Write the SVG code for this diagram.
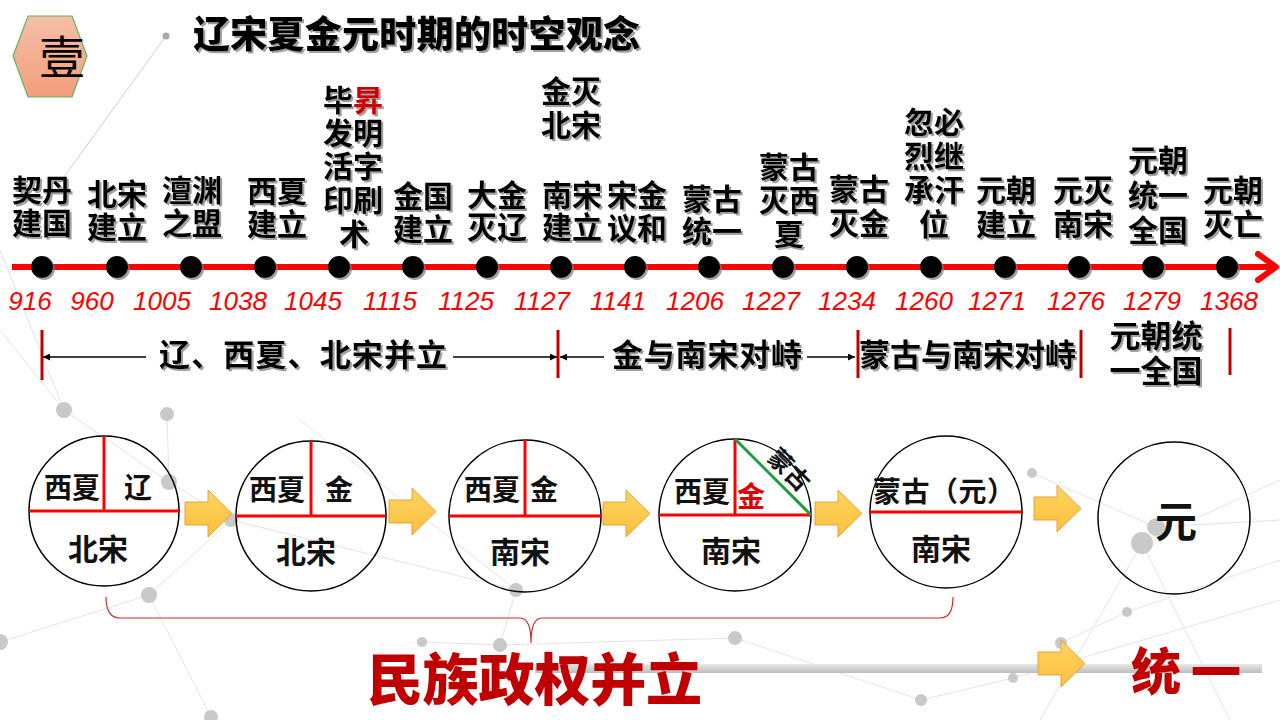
<svg xmlns="http://www.w3.org/2000/svg" width="1280" height="720" viewBox="0 0 1280 720">
<defs>
<style>
.cjk{font-family:"Noto Sans CJK SC","Noto Sans",sans-serif}
.lbl{font-family:"Noto Sans CJK SC","Noto Sans",sans-serif;font-weight:700;font-size:30px;fill:#000;text-anchor:middle}
.yr{font-family:"Liberation Sans",sans-serif;font-style:italic;font-size:26px;fill:#f00;text-anchor:middle}
.per{font-family:"Noto Sans CJK SC","Noto Sans",sans-serif;font-weight:700;font-size:31px;fill:#000}
.cal{font-family:"Noto Sans CJK SC","Noto Sans",sans-serif;font-weight:700;font-size:28px;fill:#111;text-anchor:middle}
.big{font-size:30px}
.dot{fill:#000}
.bgl{stroke:#e4e4e4;stroke-width:1;fill:none}
.bgd{fill:#c9c9c9}
.ring{fill:none;stroke:#000;stroke-width:1.5}
.rl{stroke:#f00;stroke-width:3}
.mk{stroke:#c00000;stroke-width:3}
.al{stroke:#000;stroke-width:1.5;fill:none}
.yarrow{fill:url(#yg);stroke:#e3a33a;stroke-width:1}
</style>
<linearGradient id="hexg" x1="0" y1="0" x2="0" y2="1"><stop offset="0" stop-color="#f5bfa6"/><stop offset="1" stop-color="#f29e7c"/></linearGradient>
<linearGradient id="yg" x1="0" y1="0" x2="0" y2="1"><stop offset="0" stop-color="#ffd45e"/><stop offset="1" stop-color="#f8c040"/></linearGradient>
<linearGradient id="barg" x1="0" y1="0" x2="0" y2="1"><stop offset="0" stop-color="#e8e8e8"/><stop offset="1" stop-color="#bdbdbd"/></linearGradient>
<filter id="sh" x="-10%" y="-10%" width="120%" height="120%"><feDropShadow dx="2" dy="2" stdDeviation="0.6" flood-color="#777" flood-opacity="0.7"/></filter>
<marker id="ah" viewBox="0 0 10 10" refX="10" refY="5" markerWidth="7" markerHeight="7" orient="auto-start-reverse" markerUnits="userSpaceOnUse"><path d="M0,0 L10,5 L0,10 z" fill="#000"/></marker>
<path id="yarr" d="M0,12 L23,12 L23,0 L47,23.5 L23,47 L23,35 L0,35 z"/>
</defs>
<rect width="1280" height="720" fill="#fff"/>
<g id="background">
<line class="bgl" x1="166" y1="36" x2="40" y2="210" style="stroke:#cfcfcf"/>
<line class="bgl" x1="64" y1="410" x2="0" y2="330"/>
<line class="bgl" x1="64" y1="410" x2="169" y2="482"/>
<line class="bgl" x1="167" y1="414" x2="169" y2="482"/>
<line class="bgl" x1="169" y1="482" x2="231" y2="520"/>
<line class="bgl" x1="149" y1="595" x2="0" y2="642"/>
<line class="bgl" x1="149" y1="595" x2="231" y2="520"/>
<line class="bgl" x1="149" y1="595" x2="211" y2="717"/>
<line class="bgl" x1="231" y1="520" x2="516" y2="590"/>
<line class="bgl" x1="516" y1="590" x2="500" y2="645"/>
<line class="bgl" x1="422" y1="642" x2="500" y2="645"/>
<line class="bgl" x1="500" y1="645" x2="735" y2="638"/>
<line class="bgl" x1="735" y1="638" x2="921" y2="700"/>
<line class="bgl" x1="921" y1="700" x2="1013" y2="678"/>
<line class="bgl" x1="1013" y1="678" x2="1280" y2="600"/>
<line class="bgl" x1="1127" y1="612" x2="1061" y2="643"/>
<line class="bgl" x1="1127" y1="612" x2="1280" y2="560"/>
<line class="bgl" x1="1142" y1="543" x2="1280" y2="480"/>
<line class="bgl" x1="1142" y1="543" x2="1040" y2="720"/>
<line class="bgl" x1="1156" y1="527" x2="1280" y2="520"/>
<line class="bgl" x1="1032" y1="473" x2="1156" y2="527"/>
<line class="bgl" x1="1142" y1="543" x2="1230" y2="720"/>
<line class="bgl" x1="0" y1="250" x2="64" y2="410"/>
<line class="bgl" x1="300" y1="420" x2="516" y2="590"/>
<circle cx="166" cy="36" r="3.5" fill="#aaa"/>
<circle class="bgd" cx="64" cy="410" r="8"/>
<circle class="bgd" cx="167" cy="414" r="7"/>
<circle class="bgd" cx="169" cy="482" r="8"/>
<circle class="bgd" cx="149" cy="595" r="8"/>
<circle class="bgd" cx="231" cy="520" r="7"/>
<circle class="bgd" cx="516" cy="590" r="7"/>
<circle class="bgd" cx="1032" cy="473" r="5"/>
<circle class="bgd" cx="1156" cy="527" r="9"/>
<circle class="bgd" cx="1142" cy="543" r="11"/>
<circle class="bgd" cx="0" cy="642" r="8"/>
<circle class="bgd" cx="422" cy="642" r="5"/>
<circle class="bgd" cx="500" cy="645" r="7"/>
<circle class="bgd" cx="735" cy="638" r="7"/>
<circle class="bgd" cx="921" cy="700" r="6"/>
<circle class="bgd" cx="1013" cy="678" r="5"/>
<circle class="bgd" cx="1127" cy="612" r="5"/>
<circle class="bgd" cx="211" cy="717" r="7"/>
<circle class="bgd" cx="1061" cy="643" r="6"/>
</g>
<g id="header">
<polygon points="13,56 28,16 72,16 87,56 72,97 28,97" fill="url(#hexg)" stroke="#5cb85c" stroke-width="1.2"/>
<text class="cjk" x="62" y="74" style="font-size:46px" text-anchor="middle" fill="#000">壹</text>
<text class="cjk" x="193" y="48" style="font-size:37px;font-weight:900" fill="#000" filter="url(#sh)" textLength="447">辽宋夏金元时期的时空观念</text>
</g>
<g id="connectors">
<line x1="12" y1="267" x2="1272" y2="267" stroke="#f00" stroke-width="6"/>
<polyline points="1258,254 1276,267 1258,280" fill="none" stroke="#f00" stroke-width="6" stroke-linecap="round" stroke-linejoin="round"/>
<line class="al" x1="146" y1="357" x2="43" y2="357" marker-end="url(#ah)"/>
<line class="al" x1="453" y1="357" x2="557" y2="357" marker-end="url(#ah)"/>
<line class="al" x1="604" y1="357" x2="560" y2="357" marker-end="url(#ah)"/>
<line class="al" x1="807" y1="357" x2="855" y2="357" marker-end="url(#ah)"/>
<use href="#yarr" class="yarrow" x="185" y="490"/>
<use href="#yarr" class="yarrow" x="389" y="488"/>
<use href="#yarr" class="yarrow" x="603" y="490"/>
<use href="#yarr" class="yarrow" x="815" y="490"/>
<use href="#yarr" class="yarrow" x="1034" y="485"/>
<path d="M106,597 Q106,618 120,618 L520,618 Q531,618 531,643 Q531,618 542,618 L940,618 Q953,618 953,597" fill="none" stroke="#d02a2a" stroke-width="1.2"/>
<rect x="535" y="664" width="727" height="9" fill="url(#barg)"/>
<use href="#yarr" class="yarrow" x="1038" y="640"/>
</g>
<g id="timeline" filter="url(#sh)">
<g id="e916"><circle class="dot" cx="42" cy="267" r="11"/><text class="lbl" x="42" y="201">契丹<tspan x="42" dy="33">建国</tspan></text></g>
<g id="e960"><circle class="dot" cx="117" cy="267" r="11"/><text class="lbl" x="117" y="205">北宋<tspan x="117" dy="33">建立</tspan></text></g>
<g id="e1005"><circle class="dot" cx="191" cy="267" r="11"/><text class="lbl" x="192" y="201">澶渊<tspan x="192" dy="33">之盟</tspan></text></g>
<g id="e1038"><circle class="dot" cx="265" cy="267" r="11"/><text class="lbl" x="277" y="202">西夏<tspan x="277" dy="33">建立</tspan></text></g>
<g id="e1045"><circle class="dot" cx="339" cy="267" r="11"/><text class="lbl" x="353" y="111">毕<tspan fill="#cc0000">昇</tspan><tspan x="353" dy="33">发明</tspan><tspan x="353" dy="33">活字</tspan><tspan x="353" dy="34">印刷</tspan><tspan x="354" dy="34">术</tspan></text></g>
<g id="e1115"><circle class="dot" cx="413" cy="267" r="11"/><text class="lbl" x="423" y="207">金国<tspan x="423" dy="33">建立</tspan></text></g>
<g id="e1125"><circle class="dot" cx="487" cy="267" r="11"/><text class="lbl" x="497" y="206">大金<tspan x="497" dy="32">灭辽</tspan></text></g>
<g id="e1127"><circle class="dot" cx="561" cy="267" r="11"/><text class="lbl" x="572" y="206">南宋<tspan x="572" dy="32">建立</tspan></text><text class="lbl" x="571" y="102">金灭<tspan x="571" dy="34">北宋</tspan></text></g>
<g id="e1141"><circle class="dot" cx="635" cy="267" r="11"/><text class="lbl" x="637" y="206">宋金<tspan x="637" dy="33">议和</tspan></text></g>
<g id="e1206"><circle class="dot" cx="709" cy="267" r="11"/><text class="lbl" x="712" y="210">蒙古<tspan x="712" dy="32">统一</tspan></text></g>
<g id="e1227"><circle class="dot" cx="783" cy="267" r="11"/><text class="lbl" x="789" y="178">蒙古<tspan x="789" dy="33">灭西</tspan><tspan x="789" dy="34">夏</tspan></text></g>
<g id="e1234"><circle class="dot" cx="857" cy="267" r="11"/><text class="lbl" x="859" y="200">蒙古<tspan x="859" dy="34">灭金</tspan></text></g>
<g id="e1260"><circle class="dot" cx="931" cy="267" r="11"/><text class="lbl" x="934" y="133">忽必<tspan x="934" dy="34">烈继</tspan><tspan x="934" dy="34">承汗</tspan><tspan x="934" dy="34">位</tspan></text></g>
<g id="e1271"><circle class="dot" cx="1005" cy="267" r="11"/><text class="lbl" x="1006" y="201">元朝<tspan x="1006" dy="34">建立</tspan></text></g>
<g id="e1276"><circle class="dot" cx="1079" cy="267" r="11"/><text class="lbl" x="1083" y="201">元灭<tspan x="1083" dy="34">南宋</tspan></text></g>
<g id="e1279"><circle class="dot" cx="1153" cy="267" r="11"/><text class="lbl" x="1158" y="171">元朝<tspan x="1158" dy="35">统一</tspan><tspan x="1158" dy="35">全国</tspan></text></g>
<g id="e1368"><circle class="dot" cx="1227" cy="267" r="11"/><text class="lbl" x="1233" y="201">元朝<tspan x="1233" dy="34">灭亡</tspan></text></g>
</g>
<g id="years">
<text class="yr" x="30" y="310">916</text>
<text class="yr" x="92" y="310">960</text>
<text class="yr" x="162" y="310">1005</text>
<text class="yr" x="238" y="310">1038</text>
<text class="yr" x="313" y="310">1045</text>
<text class="yr" x="390" y="310">1115</text>
<text class="yr" x="466" y="310">1125</text>
<text class="yr" x="542" y="310">1127</text>
<text class="yr" x="618" y="310">1141</text>
<text class="yr" x="695" y="310">1206</text>
<text class="yr" x="771" y="310">1227</text>
<text class="yr" x="847" y="310">1234</text>
<text class="yr" x="924" y="310">1260</text>
<text class="yr" x="997" y="310">1271</text>
<text class="yr" x="1076" y="310">1276</text>
<text class="yr" x="1152" y="310">1279</text>
<text class="yr" x="1229" y="310">1368</text>
</g>
<g id="periods">
<line class="mk" x1="42" y1="330" x2="42" y2="380"/>
<line class="mk" x1="558" y1="330" x2="558" y2="378"/>
<line class="mk" x1="858" y1="330" x2="858" y2="378"/>
<line class="mk" x1="1081" y1="330" x2="1081" y2="378"/>
<line class="mk" x1="1230" y1="328" x2="1230" y2="375"/>
<g filter="url(#sh)">
<text class="per" x="159" y="366" textLength="288">辽、西夏、北宋并立</text>
<text class="per" x="612" y="366" textLength="190">金与南宋对峙</text>
<text class="per" x="859" y="366" textLength="217">蒙古与南宋对峙</text>
<text class="per" x="1156" y="347" style="text-anchor:middle">元朝统<tspan x="1156" dy="35">一全国</tspan></text>
</g>
</g>
<g id="c1">
<circle class="ring" cx="104" cy="511" r="75"/>
<line class="rl" x1="104" y1="436" x2="104" y2="511"/>
<line class="rl" x1="29" y1="511" x2="179" y2="511"/>
<text class="cal" x="72" y="498">西夏</text><text class="cal" x="138" y="498">辽</text><text class="cal big" x="98" y="560">北宋</text>
</g>
<g id="c2">
<circle class="ring" cx="311" cy="516" r="75"/>
<line class="rl" x1="311" y1="441" x2="311" y2="516"/>
<line class="rl" x1="236" y1="516" x2="386" y2="516"/>
<text class="cal" x="277" y="500">西夏</text><text class="cal" x="339" y="500">金</text><text class="cal big" x="306" y="563">北宋</text>
</g>
<g id="c3">
<circle class="ring" cx="525" cy="516" r="76"/>
<line class="rl" x1="525" y1="440" x2="525" y2="516"/>
<line class="rl" x1="449" y1="516" x2="601" y2="516"/>
<text class="cal" x="492" y="500">西夏</text><text class="cal" x="544" y="500">金</text><text class="cal big" x="520" y="563">南宋</text>
</g>
<g id="c4">
<circle class="ring" cx="735" cy="515" r="76"/>
<line class="rl" x1="735" y1="439" x2="735" y2="515"/>
<line class="rl" x1="659" y1="515" x2="811" y2="515"/>
<line x1="735" y1="439" x2="811" y2="515" stroke="#1a9e3a" stroke-width="3"/>
<text class="cal" x="702" y="502">西夏</text><text class="cal" x="751" y="507" style="fill:#e00000">金</text>
<text class="cal" x="0" y="-7" style="font-size:24px" transform="translate(778,481) rotate(45)">蒙古</text>
<text class="cal big" x="731" y="562">南宋</text>
</g>
<g id="c5">
<circle class="ring" cx="946" cy="512" r="76"/>
<line class="rl" x1="870" y1="512" x2="1022" y2="512"/>
<text class="cal" x="873" y="502" style="text-anchor:start" textLength="142">蒙古（元）</text>
<text class="cal big" x="941" y="560">南宋</text>
</g>
<g id="c6">
<circle class="ring" cx="1174" cy="518" r="76"/>
<text class="cal" x="1176" y="537" style="font-size:42px">元</text>
</g>
<g id="bottom">
<text class="cjk" x="367" y="700" style="font-size:56px;font-weight:900" fill="#c00000" textLength="335">民族政权并立</text>
<text class="cjk" x="1131" y="690" style="font-size:50px;font-weight:900" fill="#c00000" textLength="110">统一</text>
</g>
</svg>
